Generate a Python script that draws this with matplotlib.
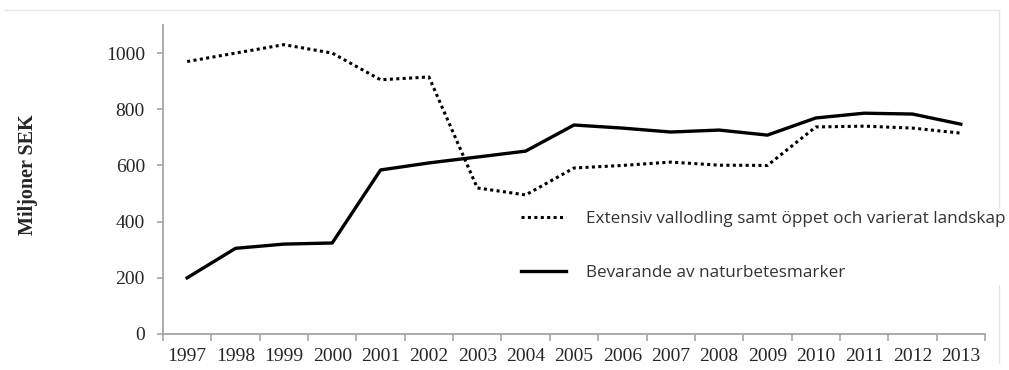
import matplotlib
matplotlib.use("Agg")
import matplotlib.pyplot as plt
from matplotlib.lines import Line2D
from matplotlib.ticker import FixedLocator

# data
years = [str(y) for y in range(1997, 2014)]
extensiv = [970, 1000, 1030, 1000, 905, 915, 520, 495, 591, 600, 612, 601, 600, 737, 740, 733, 715]
naturbete = [200, 305, 320, 324, 584, 609, 630, 651, 744, 733, 719, 726, 708, 769, 786, 783, 747]
label_ext = 'Extensiv vallodling samt öppet och varierat landskap'
label_nat = 'Bevarande av naturbetesmarker'

axis_grey = '#a6a6a6'
text_col = '#262626'

fig = plt.figure(figsize=(10.09, 3.70), dpi=100)
ax = fig.add_axes([163 / 1009, 1 - 334 / 370, (985 - 163) / 1009, (334 - 25) / 370])

x = list(range(len(years)))
ax.plot(x, extensiv, color='black', lw=2.2, linestyle=(0, (1, 1.1)), dash_capstyle='butt')
ax.plot(x, naturbete, color='black', lw=2.4, solid_joinstyle='round')

ax.set_xlim(-0.5, len(years) - 0.5)
ax.set_ylim(0, 1100)
ax.set_yticks(range(0, 1001, 200))
ax.set_xticks(x)
ax.set_xticklabels(years)
ax.xaxis.set_minor_locator(FixedLocator([i - 0.5 for i in range(len(years) + 1)]))

for s in ['top', 'right']:
    ax.spines[s].set_visible(False)
for s in ['left', 'bottom']:
    ax.spines[s].set_color(axis_grey)
    ax.spines[s].set_linewidth(1.3)

ax.tick_params(axis='x', which='major', length=0, pad=10)
ax.tick_params(axis='x', which='minor', length=5, color=axis_grey, width=1.2)
ax.tick_params(axis='y', length=4, color=axis_grey, width=1.2, pad=9)
for lab in ax.get_xticklabels() + ax.get_yticklabels():
    lab.set_fontfamily('Liberation Serif')
    lab.set_fontsize(14)
    lab.set_color(text_col)

ax.set_ylabel('Miljoner SEK', fontfamily='Liberation Serif', fontweight='bold',
              fontsize=14.5, color=text_col, labelpad=0)
ax.yaxis.set_label_coords((38 - 163) / 822, 0.515)

# faint outer frame of the chart area
fig.add_artist(Line2D([5 / 1009, 999 / 1009], [1 - 10 / 370] * 2, color='#e6e6e6', lw=1))
fig.add_artist(Line2D([999 / 1009] * 2, [1 - 10 / 370, 0.02], color='#e6e6e6', lw=1))

handles = [
    Line2D([], [], color='black', lw=2.2, linestyle=(0, (1, 1.1))),
    Line2D([], [], color='black', lw=2.4),
]
leg = fig.legend(handles, [label_ext, label_nat], loc='upper left',
                 bbox_to_anchor=(509 / 1009, 1 - 199 / 370), frameon=True,
                 edgecolor='none', facecolor='white', framealpha=1,
                 prop={'family': 'Open Sans', 'size': 12.35},
                 handlelength=2.65, handletextpad=1.15, labelspacing=2.22,
                 borderpad=0.2)
for t in leg.get_texts():
    t.set_color('#333333')

fig.savefig('out.png', dpi=100)
